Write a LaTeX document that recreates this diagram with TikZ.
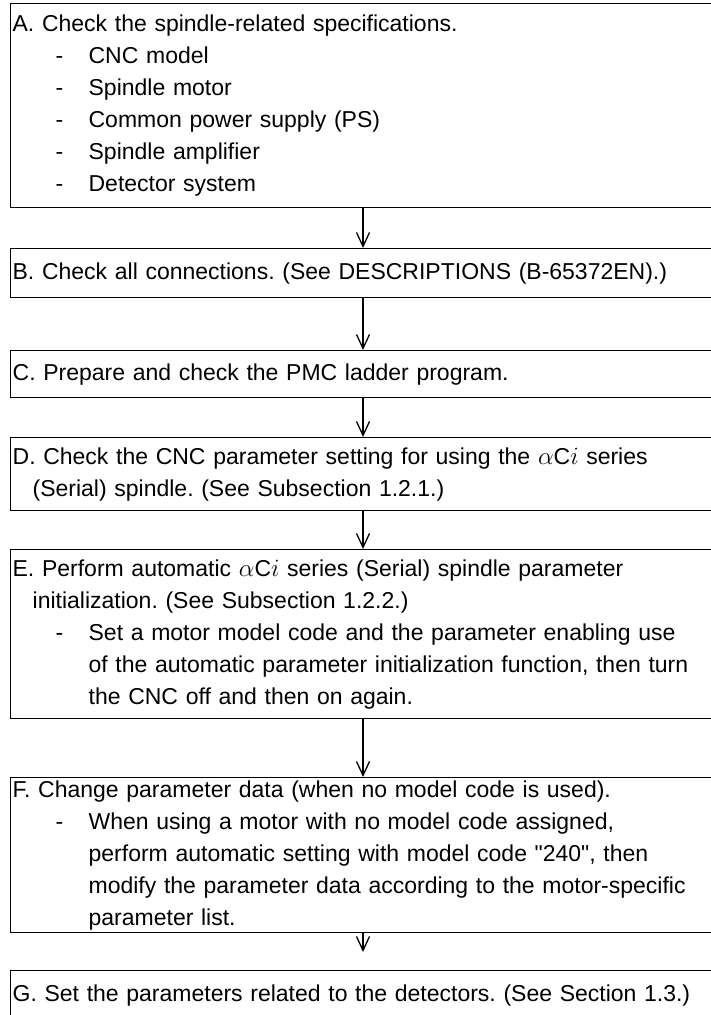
\documentclass[tikz,border=0pt]{standalone}
\usepackage{fontspec}
\setmainfont{Liberation Sans}[Ligatures=TeXOff]
\usetikzlibrary{arrows.meta}
\frenchspacing
\newcommand\dashitem{\makebox[76pt][l]{\hspace*{43pt}-}}
\newcommand\contline{\hspace*{76pt}}
\newcommand\indline{\hspace*{20pt}}
\begin{document}
\begin{tikzpicture}[x=1pt,y=-1pt,
  box/.style={draw,line width=1.3pt,anchor=north west,text width=716pt,align=left,
    inner xsep=2pt,inner ysep=0pt,font=\fontsize{23}{32}\selectfont},
  flow/.style={-{Straight Barb[length=14pt,width=13pt,line width=1.3pt]},line width=1.3pt}]
\useasboundingbox (0,0) rectangle (711,1015);
\fill[white] (0,0) rectangle (711,1015);
\coordinate (ax) at (363,0);
\node[box,minimum height=204pt] (A) at (10,3) {A. Check the spindle-related specifications.\\
\dashitem CNC model\\
\dashitem Spindle motor\\
\dashitem Common power supply (PS)\\
\dashitem Spindle amplifier\\
\dashitem Detector system};
\node[box,minimum height=49pt] (B) at (10,248) {B. Check all connections. (See DESCRIPTIONS (B-65372EN).)};
\node[box,minimum height=47pt] (C) at (10,350) {C. Prepare and check the PMC ladder program.};
\node[box,minimum height=73pt] (D) at (10,437) {D. Check the CNC parameter setting for using the $\alpha$C$i$ series\\
\indline(Serial) spindle. (See Subsection 1.2.1.)};
\node[box,minimum height=169pt] (E) at (10,549) {E. Perform automatic $\alpha$C$i$ series (Serial) spindle parameter\\
\indline initialization. (See Subsection 1.2.2.)\\
\dashitem Set a motor model code and the parameter enabling use\\
\contline of the automatic parameter initialization function, then turn\\
\contline the CNC off and then on again.};
\node[box,minimum height=155pt] (F) at (10,777) {F. Change parameter data (when no model code is used).\\
\dashitem When using a motor with no model code assigned,\\
\contline perform automatic setting with model code "240", then\\
\contline modify the parameter data according to the motor-specific\\
\contline parameter list.};
\node[box,minimum height=50pt] (G) at (10,970) {G. Set the parameters related to the detectors. (See Section 1.3.)};
\coordinate (fgend) at (363,952);
\draw[flow] (A.south -| ax) -- (B.north -| ax);
\draw[flow] (B.south -| ax) -- (C.north -| ax);
\draw[flow] (C.south -| ax) -- (D.north -| ax);
\draw[flow] (D.south -| ax) -- (E.north -| ax);
\draw[flow] (E.south -| ax) -- (F.north -| ax);
\draw[flow] (F.south -| ax) -- (fgend);
\end{tikzpicture}
\end{document}
